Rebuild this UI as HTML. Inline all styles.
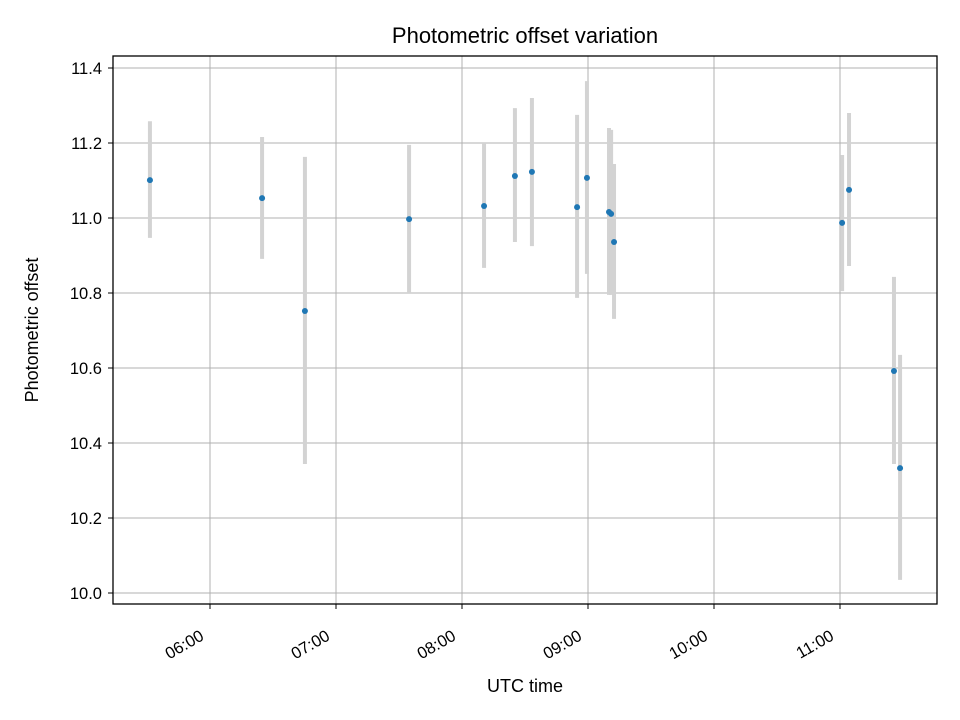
<!DOCTYPE html>
<html><head><meta charset="utf-8">
<style>
html,body{margin:0;padding:0;background:#fff;}
svg{display:block;font-family:"Liberation Sans","DejaVu Sans",sans-serif;}
</style></head>
<body>
<svg id="chart" width="960" height="720" viewBox="0 0 960 720" xmlns="http://www.w3.org/2000/svg">
<rect x="0" y="0" width="960" height="720" fill="#fff"/>
<text x="525" y="43" font-size="22" text-anchor="middle" fill="#000">Photometric offset variation</text>
<g id="grid"></g>
<g id="bars"></g>
<g id="points"></g>
<rect x="113" y="56" width="824" height="548" fill="none" stroke="#000" stroke-width="1.3"/>
<g id="ticks"></g>
<text x="525" y="692" font-size="18" text-anchor="middle">UTC time</text>
<text x="38" y="330" font-size="18" text-anchor="middle" transform="rotate(-90 38 330)">Photometric offset</text>
</svg>
<script>
// minutes since midnight UTC
const times = [331.4, 384.8, 405.2, 454.8, 490.5, 505.2, 513.3, 534.8, 539.5, 550.0, 551.0, 552.4, 661.0, 664.3, 685.7, 688.6];
const offsets = [11.101, 11.053, 10.752, 10.997, 11.032, 11.112, 11.123, 11.029, 11.107, 11.016, 11.011, 10.936, 10.987, 11.075, 10.592, 10.333];
const errLow = [10.947, 10.891, 10.344, 10.800, 10.867, 10.936, 10.925, 10.787, 10.851, 10.795, 10.795, 10.731, 10.805, 10.872, 10.344, 10.035];
const errHigh = [11.258, 11.216, 11.163, 11.195, 11.200, 11.293, 11.320, 11.275, 11.365, 11.240, 11.235, 11.144, 11.168, 11.280, 10.843, 10.635];
const yTicks = [10.0, 10.2, 10.4, 10.6, 10.8, 11.0, 11.2, 11.4];
const xTicks = [360, 420, 480, 540, 600, 660];
const xTickLabels = ["06:00", "07:00", "08:00", "09:00", "10:00", "11:00"];

const NS = "http://www.w3.org/2000/svg";
function xs(m){ return 210 + (m - 360) * 126 / 60; }
function ys(v){ return 593 - (v - 10.0) * 375; }
function mk(tag, attrs, parent){
  const e = document.createElementNS(NS, tag);
  for (const k in attrs) e.setAttribute(k, attrs[k]);
  parent.appendChild(e);
  return e;
}
const grid = document.getElementById('grid');
const ticks = document.getElementById('ticks');
const bars = document.getElementById('bars');
const pts = document.getElementById('points');

yTicks.forEach((v) => {
  const y = ys(v);
  const g = mk('line', {x1:113, x2:937, y1:y, y2:y, stroke:'#b0b0b0', 'stroke-width':1}, grid);
  
  
  mk('line', {x1:108, x2:113, y1:y, y2:y, stroke:'#000', 'stroke-width':1}, ticks);
  const t = mk('text', {x:102, y:y+6, 'font-size':16.5, 'text-anchor':'end'}, ticks);
  t.textContent = v.toFixed(1);
  
  
});
xTicks.forEach((m, i) => {
  const x = xs(m);
  const g = mk('line', {x1:x, x2:x, y1:56, y2:604, stroke:'#b0b0b0', 'stroke-width':1}, grid);
  
  
  mk('line', {x1:x, x2:x, y1:604, y2:609, stroke:'#000', 'stroke-width':1}, ticks);
  const ax = x - 5, ay = 639;
  const t = mk('text', {x:ax, y:ay, 'font-size':16.5, 'text-anchor':'end', transform:'rotate(-30 '+ax+' '+ay+')'}, ticks);
  t.textContent = xTickLabels[i];
  
  
});
times.forEach((m, i) => {
  const x = xs(m);
  const b = mk('line', {x1:x, x2:x, y1:ys(errHigh[i]), y2:ys(errLow[i]), stroke:'#d3d3d3', 'stroke-width':4}, bars);
  
  
  const c = mk('circle', {cx:x, cy:ys(offsets[i]), r:3, fill:'#1f77b4'}, pts);
  
  
});
</script>
</body></html>
